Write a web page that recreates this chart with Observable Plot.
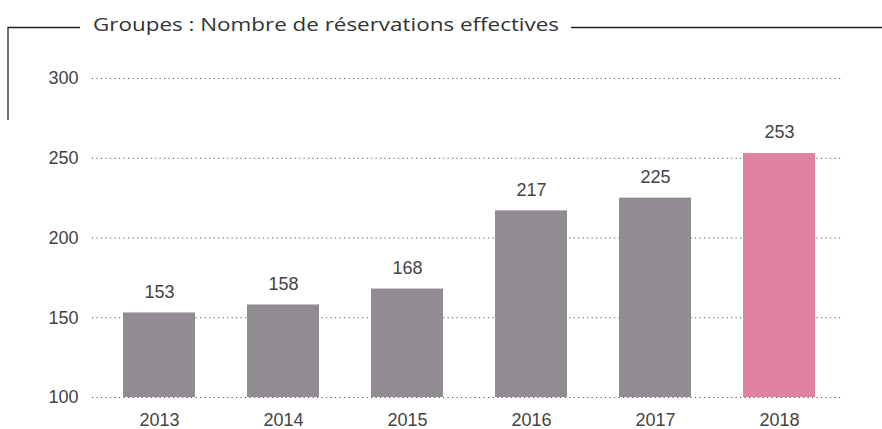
<!DOCTYPE html>
<html><head><meta charset="utf-8">
<script src="https://cdn.jsdelivr.net/npm/d3@7"></script>
<script src="https://cdn.jsdelivr.net/npm/@observablehq/plot@0.6"></script>
<style>
html,body{margin:0;padding:0;background:#fff;}
#wrap{position:relative;width:882px;height:429px;}
#deco{position:absolute;left:0;top:0;}
</style></head>
<body><div id="wrap"><svg id="deco" width="882" height="429"></svg></div>
<script>
const years = ["2013","2014","2015","2016","2017","2018"];
const values = [153,158,168,217,225,253];
const highlight = [false,false,false,false,false,true];
const yTicks = [100,150,200,250,300];
const title = "Groupes : Nombre de réservations effectives";

const data = years.map((y,i)=>({year:y, value:values[i], hi:highlight[i]}));

const chart = Plot.plot({
  width:882, height:429,
  marginTop:78, marginBottom:32, marginLeft:92, marginRight:40,
  style:{fontFamily:"'Liberation Sans', Arial, sans-serif", fontSize:"18px", color:"#444", background:"transparent"},
  x:{domain:years, range:[95.75,842.75], paddingInner:0.42, paddingOuter:0.21},
  y:{domain:[100,300]},
  marks:[
    Plot.ruleY(yTicks,{stroke:"#555", strokeWidth:1.2, strokeDasharray:"1.2,3.3"}),
    Plot.barY(data,{x:"year", y1:100, y2:"value", fill:d=>d.hi?"#e083a0":"#918c91"}),
    Plot.text(data,{x:"year", y:"value", text:d=>String(d.value), dy:-21, fill:"#444", fontSize:18}),
    Plot.axisY(yTicks,{tickSize:0, tickPadding:14, fontSize:18, fill:"#444", label:null}),
    Plot.axisX({tickSize:0, tickPadding:16, fontSize:18, fill:"#444", label:null})
  ]
});
chart.style.position="absolute"; chart.style.left="0"; chart.style.top="0";
document.getElementById("wrap").insertBefore(chart, document.getElementById("deco"));

const deco = d3.select("#deco");
deco.append("path").attr("d","M8,120V27.5H80").attr("fill","none").attr("stroke","#222").attr("stroke-width",1.3);
deco.append("path").attr("d","M571,27.5H882").attr("fill","none").attr("stroke","#222").attr("stroke-width",1.3);
deco.append("text").attr("x",93).attr("y",31).attr("font-family","'Open Sans', Lato, sans-serif")
  .attr("font-size",19).attr("fill","#333").attr("textLength",466).attr("lengthAdjust","spacingAndGlyphs").text(title);
</script></body></html>
